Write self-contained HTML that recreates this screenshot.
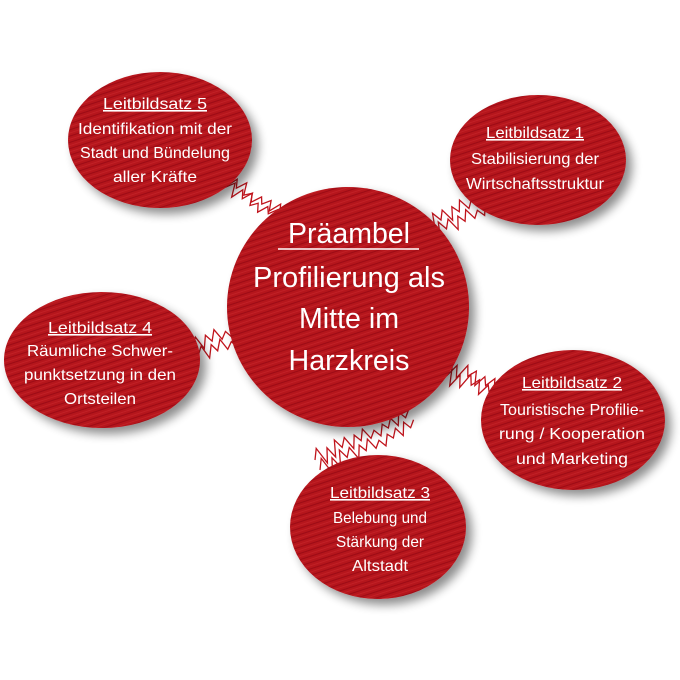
<!DOCTYPE html>
<html><head><meta charset="utf-8"><style>
html,body{margin:0;padding:0;background:#fff;width:680px;height:680px;overflow:hidden}
svg{display:block}
text{font-family:"Liberation Sans",sans-serif;fill:#fff;text-anchor:middle}
</style></head><body>
<svg width="680" height="680" viewBox="0 0 680 680">
<defs>
<filter id="sh" x="-30%" y="-30%" width="160%" height="160%">
<feGaussianBlur in="SourceAlpha" stdDeviation="5"/>
<feOffset dx="6" dy="6"/>
<feComponentTransfer><feFuncA type="linear" slope="0.45"/></feComponentTransfer>
<feMerge><feMergeNode/><feMergeNode in="SourceGraphic"/></feMerge>
</filter>
<pattern id="hatch" width="6" height="6" patternUnits="userSpaceOnUse" patternTransform="rotate(-18)">
<rect width="6" height="6" fill="#b5121b"/>
<line x1="0" y1="1" x2="6" y2="1" stroke="#960d14" stroke-width="0.8"/>
<line x1="0" y1="4" x2="6" y2="4" stroke="#c42329" stroke-width="0.8"/>
</pattern>
<path id="zz" d="M0,0 l6,-10 l4,18 l6,-14 l4,12 l6,-16 l4,10 l6,-8 l4,14 l6,-12 l4,8 l6,-10 l4,12 l6,-6 l4,8 l6,-10 l4,6 l6,-8 l4,10 l6,-12 l4,8 l6,-6" fill="none" stroke="#c0141c" stroke-width="1.3"/>
</defs>

<g>
<use href="#zz" transform="translate(195,160) rotate(32)"/>
<use href="#zz" transform="translate(200,172) rotate(30)"/>
<use href="#zz" transform="translate(415,235) rotate(-30)"/>
<use href="#zz" transform="translate(420,243) rotate(-28)"/>
<use href="#zz" transform="translate(165,358) rotate(-22)"/>
<use href="#zz" transform="translate(170,366) rotate(-20)"/>
<use href="#zz" transform="translate(440,365) rotate(22)"/>
<use href="#zz" transform="translate(443,375) rotate(20)"/>
<use href="#zz" transform="translate(315,460) rotate(-25)"/>
<use href="#zz" transform="translate(320,470) rotate(-25)"/>
</g>

<g filter="url(#sh)" fill="url(#hatch)">
<ellipse cx="348" cy="307" rx="121" ry="120"/>
<ellipse cx="160" cy="140" rx="92" ry="68"/>
<ellipse cx="538" cy="160" rx="88" ry="65"/>
<ellipse cx="102" cy="360" rx="98" ry="68"/>
<ellipse cx="573" cy="420" rx="92" ry="70"/>
<ellipse cx="378" cy="527" rx="88" ry="72"/>
</g>

<g font-size="29">
<text x="349" y="243" textLength="122" lengthAdjust="spacingAndGlyphs">Präambel</text>
<line x1="278" y1="249" x2="419" y2="249" stroke="#fff" stroke-width="1.5"/>
<text x="349" y="287" textLength="192" lengthAdjust="spacingAndGlyphs">Profilierung als</text>
<text x="349" y="328" textLength="100" lengthAdjust="spacingAndGlyphs">Mitte im</text>
<text x="349" y="370" textLength="121" lengthAdjust="spacingAndGlyphs">Harzkreis</text>
</g>

<g font-size="16">
<text x="155" y="109" text-decoration="underline" textLength="104" lengthAdjust="spacingAndGlyphs">Leitbildsatz 5</text>
<text x="155" y="134" textLength="154" lengthAdjust="spacingAndGlyphs">Identifikation mit der</text>
<text x="155" y="158" textLength="150" lengthAdjust="spacingAndGlyphs">Stadt und Bündelung</text>
<text x="155" y="182" textLength="84" lengthAdjust="spacingAndGlyphs">aller Kräfte</text>

<text x="535" y="138" text-decoration="underline" textLength="98" lengthAdjust="spacingAndGlyphs">Leitbildsatz 1</text>
<text x="535" y="164" textLength="128" lengthAdjust="spacingAndGlyphs">Stabilisierung der</text>
<text x="535" y="189" textLength="138" lengthAdjust="spacingAndGlyphs">Wirtschaftsstruktur</text>

<text x="100" y="333" text-decoration="underline" textLength="104" lengthAdjust="spacingAndGlyphs">Leitbildsatz 4</text>
<text x="100" y="356" textLength="146" lengthAdjust="spacingAndGlyphs">Räumliche Schwer-</text>
<text x="100" y="380" textLength="152" lengthAdjust="spacingAndGlyphs">punktsetzung in den</text>
<text x="100" y="404" textLength="72" lengthAdjust="spacingAndGlyphs">Ortsteilen</text>

<text x="572" y="388" text-decoration="underline" textLength="100" lengthAdjust="spacingAndGlyphs">Leitbildsatz 2</text>
<text x="572" y="415" textLength="144" lengthAdjust="spacingAndGlyphs">Touristische Profilie-</text>
<text x="572" y="439" textLength="146" lengthAdjust="spacingAndGlyphs">rung / Kooperation</text>
<text x="572" y="464" textLength="112" lengthAdjust="spacingAndGlyphs">und Marketing</text>

<text x="380" y="498" text-decoration="underline" textLength="100" lengthAdjust="spacingAndGlyphs">Leitbildsatz 3</text>
<text x="380" y="523" textLength="94" lengthAdjust="spacingAndGlyphs">Belebung und</text>
<text x="380" y="547" textLength="88" lengthAdjust="spacingAndGlyphs">Stärkung der</text>
<text x="380" y="571" textLength="56" lengthAdjust="spacingAndGlyphs">Altstadt</text>
</g>
</svg>
</body></html>
